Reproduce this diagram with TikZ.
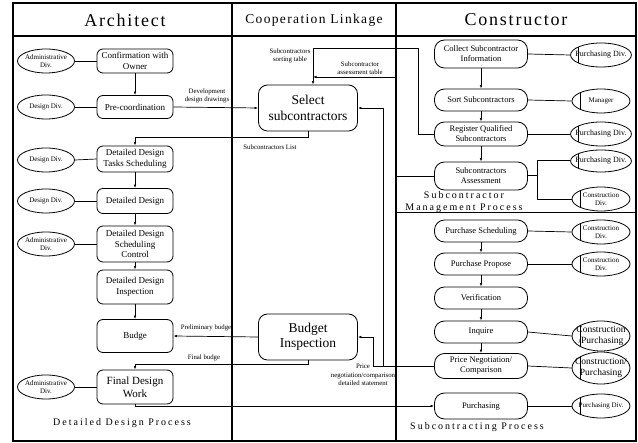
\documentclass[tikz,border=0pt]{standalone}
\usepackage{fontspec}
\setmainfont{Liberation Serif}
\newfontfamily\titlefont[LetterSpace=10]{Liberation Serif}
\newfontfamily\sectfont[LetterSpace=20]{Liberation Serif}
\usetikzlibrary{shapes.geometric,arrows.meta}
\begin{document}
\begin{tikzpicture}[x=1pt,y=-1pt,
frame/.style={line width=1.3pt},
abox/.style={draw,line width=0.8pt,rounded corners=6pt,minimum width=76pt,minimum height=24pt,align=center,inner sep=1pt,font=\fontsize{9}{10.5}\selectfont},
cbox/.style={draw,line width=0.8pt,rounded corners=10pt,minimum width=93pt,minimum height=22pt,align=center,inner sep=1pt,font=\fontsize{8.5}{10}\selectfont},
mbox/.style={draw,line width=0.8pt,rounded corners=9pt,minimum width=99pt,minimum height=46pt,align=center,font=\fontsize{13.5}{15.5}\selectfont},
div/.style={draw,ellipse,line width=0.8pt,minimum width=57pt,minimum height=24pt,inner xsep=-4pt,inner ysep=0pt,align=center,font=\fontsize{7}{8}\selectfont},
rdiv/.style={div,minimum width=58pt,path picture={\draw([xshift=8pt]path picture bounding box.south west)--([xshift=8pt]path picture bounding box.north west);}},
link/.style={line width=0.7pt},
flow/.style={link,-{Latex[length=3.5pt,width=2.6pt]}},
note/.style={font=\fontsize{6.8}{8.5}\selectfont,align=center,inner sep=0pt},
title/.style={font=\fontsize{18}{20}\titlefont},
sect/.style={font=\fontsize{10}{12}\sectfont,align=center}]
\useasboundingbox(0,0)rectangle(638,443);
% frame
\draw[frame](13,3)rectangle(636,441);
\draw[frame](13,36)--(636,36)(232,3)--(232,441)(396,3)--(396,441);
\draw[line width=0.8pt](396,212)--(636,212);
\node[title](tarch)at(125,20){Architect};
\node[title,font=\fontsize{13.5}{15}\titlefont](tcoop)at(314,20){Cooperation Linkage};
\node[title](tcons)at(516,20){Constructor};
% architect
\node[abox](confirm)at(135,61){Confirmation with\\Owner};
\node[abox,minimum height=23pt](precoord)at(135,107){Pre-coordination};
\node[abox,minimum height=26pt](tasks)at(135,159){Detailed Design\\Tasks Scheduling};
\node[abox,minimum height=25pt](design)at(135,201){Detailed Design};
\node[abox,minimum height=36pt](control)at(135,244){Detailed Design\\Scheduling\\Control};
\node[abox,minimum height=34pt](review)at(135,287){Detailed Design\\Inspection};
\node[abox,minimum height=33pt](budge)at(135,336){Budge};
\node[abox,minimum height=34pt,font=\fontsize{11}{13}\selectfont](final)at(135,387){Final Design\\Work};
\node[div](adm1)at(46,61){Administrative\\Div.};
\node[div](des1)at(46,107){Design Div.};
\node[div](des2)at(46,160){Design Div.};
\node[div](des3)at(46,201){Design Div.};
\node[div](adm2)at(46,244){Administrative\\Div.};
\node[div](adm3)at(46,387){Administrative\\Div.};
\foreach \a/\b in {adm1/confirm,des1/precoord,des2/tasks,des3/design,adm2/control,adm3/final}
  \draw[link](\a.east)--(\b.west);
\foreach \a/\b in {confirm/precoord,tasks/design,design/control,control/review,review/budge}
  \draw[flow](\a)--(\b);
\node[sect](sdes)at(122,423){Detailed Design Process};
% cooperation linkage
\node[mbox](select)at(308,108){Select\\subcontractors};
\node[mbox](inspect)at(308,337){Budget\\Inspection};
\coordinate(seltop)at([xshift=5pt]select.north);
\coordinate(sortc)at(418,48);
\coordinate(asst)at(396,77);
\coordinate(priceA)at(383,366);
\coordinate(priceB)at(373,366);
\node[note](ldev)at(207,96){Development\\design drawings};
\node[note](llist)at(270,147){Subcontractors List};
\node[note](lsort)at(290,56){Subcontractors\\sorting table};
\node[note](lass)at(360,68){Subcontractor\\assessment table};
\node[note](lpre)at(206,328){Preliminary budge};
\node[note](lfin)at(204,358){Final budge};
\node[note](lprice)at(363,375){Price\\negotiation/comparison\\detailed statement};
% constructor
\node[cbox,minimum height=28pt](collect)at(481,54){Collect Subcontractor\\Information};
\node[cbox](sort)at(481,100){Sort Subcontractors};
\node[cbox,minimum height=24pt](register)at(481,134){Register Qualified\\Subcontractors};
\node[cbox,minimum height=28pt](assess)at(481,176){Subcontractors\\Assessment};
\node[cbox](plan)at(481,231){Purchase Scheduling};
\node[cbox](propose)at(481,264){Purchase Propose};
\node[cbox](verify)at(481,298){Verification};
\node[cbox](inquire)at(481,332){Inquire};
\node[cbox,minimum height=25pt](negotiate)at(481,366){Price Negotiation/\\Comparison};
\node[cbox,minimum height=26pt](purchase)at(481,406){Purchasing};
\node[rdiv,font=\fontsize{8}{9}\selectfont](pd1)at(601,55){Purchasing Div.};
\node[rdiv](mgr)at(601,101){Manager};
\node[rdiv,font=\fontsize{8}{9}\selectfont](pd2)at(601,134){Purchasing Div.};
\node[rdiv,font=\fontsize{8}{9}\selectfont,minimum height=22pt](pd3)at(601,161){Purchasing Div.};
\node[rdiv](cd1)at(601,199){Construction\\Div.};
\node[rdiv](cd2)at(601,232){Construction\\Div.};
\node[rdiv](cd3)at(601,264){Construction\\Div.};
\node[rdiv,font=\fontsize{9.5}{11}\selectfont,minimum height=30pt,inner xsep=-8pt](cp1)at(601,336){Construction\\/Purchasing};
\node[rdiv,font=\fontsize{9.5}{11}\selectfont,minimum height=32pt,inner xsep=-8pt](cp2)at(601,368){Construction/\\Purchasing};
\node[rdiv](pd4)at(601,406){Purchasing Div.};
\foreach \a/\b in {collect/pd1,sort/mgr,register/pd2,plan/cd2,propose/cd3,inquire/cp1,negotiate/cp2,purchase/pd4}
  \draw[link](\a.east)--(\b.west);
\coordinate(asbr)at(537,176);
\draw[link,line width=1pt](assess.east)--(asbr)|-(pd3.west);
\draw[link](asbr)|-(cd1.west);
\foreach \a/\b in {collect/sort,sort/register,register/assess,plan/propose,propose/verify,verify/inquire,inquire/negotiate}
  \draw[flow](\a)--(\b);
\node[sect](smgmt)at(464,202){Subcontractor\\Management Process};
\node[sect](ssub)at(477,427){Subcontracting Process};
% links between columns
\draw[flow](precoord.east)--(select.west);
\draw[flow](select.south)--++(0,6)-|(tasks.north);
\draw[flow](register.west)-|(sortc)-|(seltop);
\draw[flow](assess.west)-|(asst)--(seltop|-asst);
\draw[flow](negotiate.west)--(priceA)|-(select.east);
\draw[flow](priceA)--(priceB)|-(inspect.east);
\draw[flow](inspect.west)--(budge.east);
\draw[flow](inspect.south)--++(0,4)-|(final.north);
\draw[flow](final.south)|-(purchase.west);
\end{tikzpicture}
\end{document}
